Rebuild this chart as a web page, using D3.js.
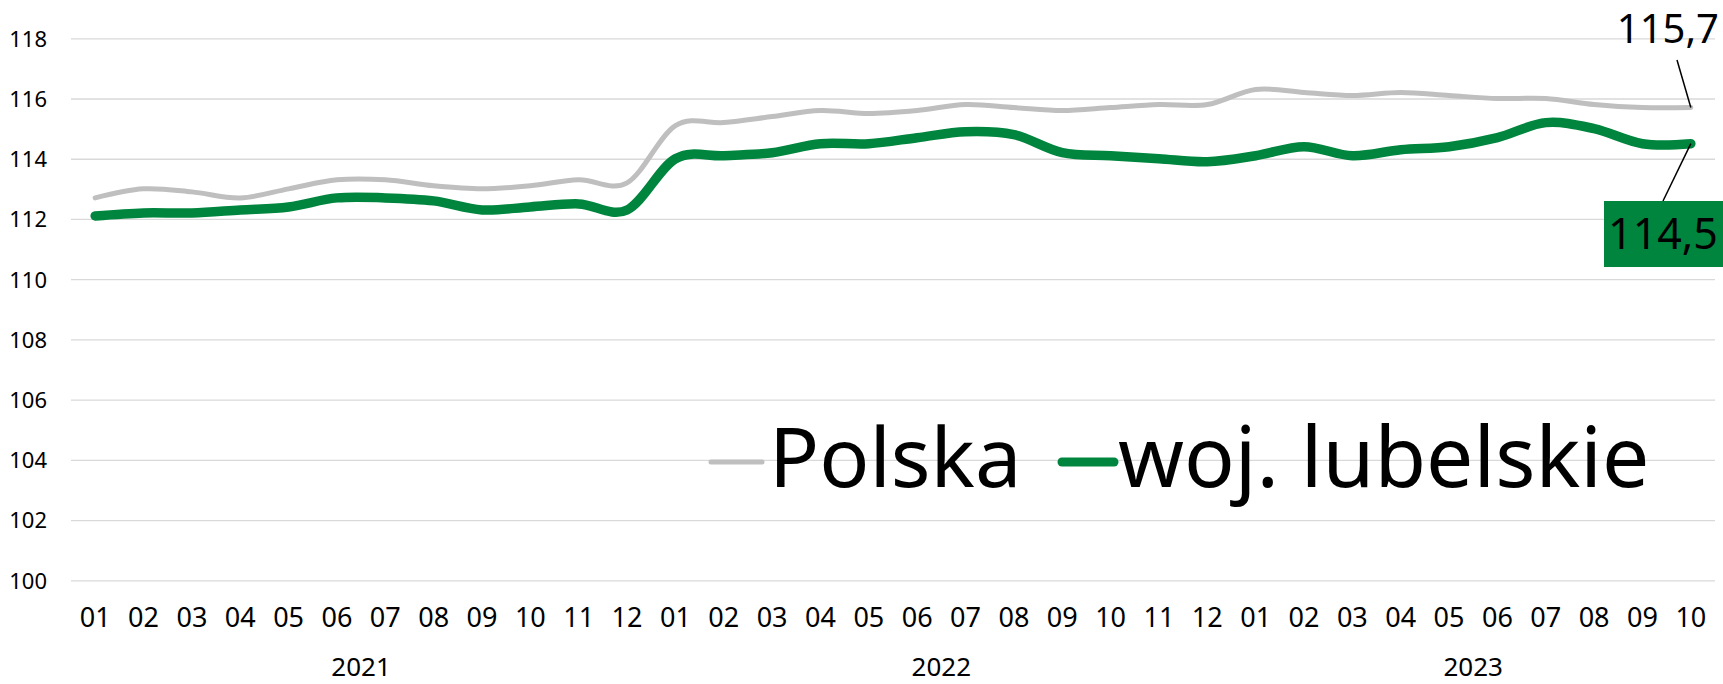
<!DOCTYPE html>
<html>
<head>
<meta charset="utf-8">
<script src="https://cdn.jsdelivr.net/npm/d3@7"></script>
<style>
  body { margin: 0; background: #fff; }
  text { font-family: "Noto Sans", "Open Sans", sans-serif; fill: #000; }
</style>
</head>
<body>
<div id="chart"></div>
<script>
// months 2021-01 .. 2023-10
const months = ["01","02","03","04","05","06","07","08","09","10","11","12",
                "01","02","03","04","05","06","07","08","09","10","11","12",
                "01","02","03","04","05","06","07","08","09","10"];
const years = ["2021", "2022", "2023"];
const yearOf = months.map((m, i) => years[Math.floor(i / 12)]);

const polska = [112.7, 113.0, 112.9, 112.7, 113.0, 113.3, 113.3, 113.1, 113.0, 113.1, 113.3, 113.2,
                115.1, 115.2, 115.4, 115.6, 115.5, 115.6, 115.8, 115.7, 115.6, 115.7, 115.8, 115.8,
                116.3, 116.2, 116.1, 116.2, 116.1, 116.0, 116.0, 115.8, 115.7, 115.7];
const lubelskie = [112.1, 112.2, 112.2, 112.3, 112.4, 112.7, 112.7, 112.6, 112.3, 112.4, 112.5, 112.3,
                   114.0, 114.1, 114.2, 114.5, 114.5, 114.7, 114.9, 114.8, 114.2, 114.1, 114.0, 113.9,
                   114.1, 114.4, 114.1, 114.3, 114.4, 114.7, 115.2, 115.0, 114.5, 114.5];
const yTicks = [100, 102, 104, 106, 108, 110, 112, 114, 116, 118];
const seriesNames = ["Polska", "woj. lubelskie"];

const W = 1723, H = 684;
const GREEN = "#00853e", GREY = "#bfbfbf";

const svg = d3.select("#chart").append("svg")
    .attr("width", W)
    .attr("height", H);

svg.append("rect").attr("width", W).attr("height", H).attr("fill", "#fff");

const idx = months.map((m, i) => i);
const x = d3.scaleBand().domain(idx).range([71, 1715]);
const y = d3.scaleLinear().domain([100, 118]).range([580.3, 38.3]);
const cx = i => x(i) + x.bandwidth() / 2;

// gridlines + y labels
const yAxis = svg.append("g")
    .attr("transform", "translate(71,0)")
    .call(d3.axisLeft(y).tickValues(yTicks).tickSize(-(1715 - 71)).tickFormat(d3.format("d")));
yAxis.select(".domain").remove();
yAxis.selectAll(".tick line").attr("stroke", "#d9d9d9").attr("stroke-width", 1.3);
yAxis.selectAll(".tick text")
    .attr("x", -24)
    .attr("dy", "0.36em")
    .style("font-size", "22px")
    .style("font-family", "'Noto Sans', sans-serif")
    .attr("fill", "#000");

// month labels
const xAxis = svg.append("g")
    .attr("transform", "translate(0,580)")
    .call(d3.axisBottom(x).tickSize(0).tickFormat(i => months[i]));
xAxis.select(".domain").remove();
xAxis.selectAll(".tick text")
    .attr("y", 47)
    .attr("dy", 0)
    .style("font-size", "27px")
    .style("font-family", "'Noto Sans', sans-serif")
    .attr("fill", "#000");

// year labels
years.forEach(yr => {
    const ii = idx.filter(i => yearOf[i] === yr);
    svg.append("text")
        .attr("x", d3.mean(ii, cx))
        .attr("y", 676)
        .attr("text-anchor", "middle")
        .style("font-size", "26px")
        .text(yr);
});

// lines
const line = d3.line()
    .x((d, i) => cx(i))
    .y(d => y(d))
    .curve(d3.curveCardinal.tension(0));

svg.append("path")
    .datum(polska)
    .attr("fill", "none")
    .attr("stroke", GREY)
    .attr("stroke-width", 5)
    .attr("stroke-linecap", "round")
    .attr("d", line);

svg.append("path")
    .datum(lubelskie)
    .attr("fill", "none")
    .attr("stroke", GREEN)
    .attr("stroke-width", 9.5)
    .attr("stroke-linecap", "round")
    .attr("stroke-linejoin", "round")
    .attr("d", line);

// legend
const legend = svg.append("g");
legend.append("line")
    .attr("x1", 711).attr("x2", 762).attr("y1", 462).attr("y2", 462)
    .attr("stroke", GREY).attr("stroke-width", 5).attr("stroke-linecap", "round");
legend.append("text")
    .attr("x", 769).attr("y", 487)
    .style("font-size", "83px")
    .text(seriesNames[0]);
legend.append("line")
    .attr("x1", 1062).attr("x2", 1114).attr("y1", 462).attr("y2", 462)
    .attr("stroke", GREEN).attr("stroke-width", 9).attr("stroke-linecap", "round");
legend.append("text")
    .attr("x", 1118).attr("y", 487)
    .style("font-size", "84px")
    .text(seriesNames[1]);

// end-value annotations
const last = months.length - 1;
const fmt = v => d3.format(".1f")(v).replace(".", ",");

svg.append("line")
    .attr("x1", 1677).attr("y1", 60)
    .attr("x2", cx(last)).attr("y2", y(polska[last]))
    .attr("stroke", "#000").attr("stroke-width", 1.5);
svg.append("text")
    .attr("x", 1719).attr("y", 43)
    .attr("text-anchor", "end")
    .style("font-size", "40px")
    .text(fmt(polska[last]));

svg.append("line")
    .attr("x1", 1663).attr("y1", 201)
    .attr("x2", cx(last)).attr("y2", y(lubelskie[last]))
    .attr("stroke", "#000").attr("stroke-width", 1.5);
svg.append("rect")
    .attr("x", 1604).attr("y", 201)
    .attr("width", 119).attr("height", 66)
    .attr("fill", GREEN);
svg.append("text")
    .attr("x", 1663).attr("y", 249)
    .attr("text-anchor", "middle")
    .style("font-size", "43px")
    .text(fmt(lubelskie[last]));
</script>
</body>
</html>
